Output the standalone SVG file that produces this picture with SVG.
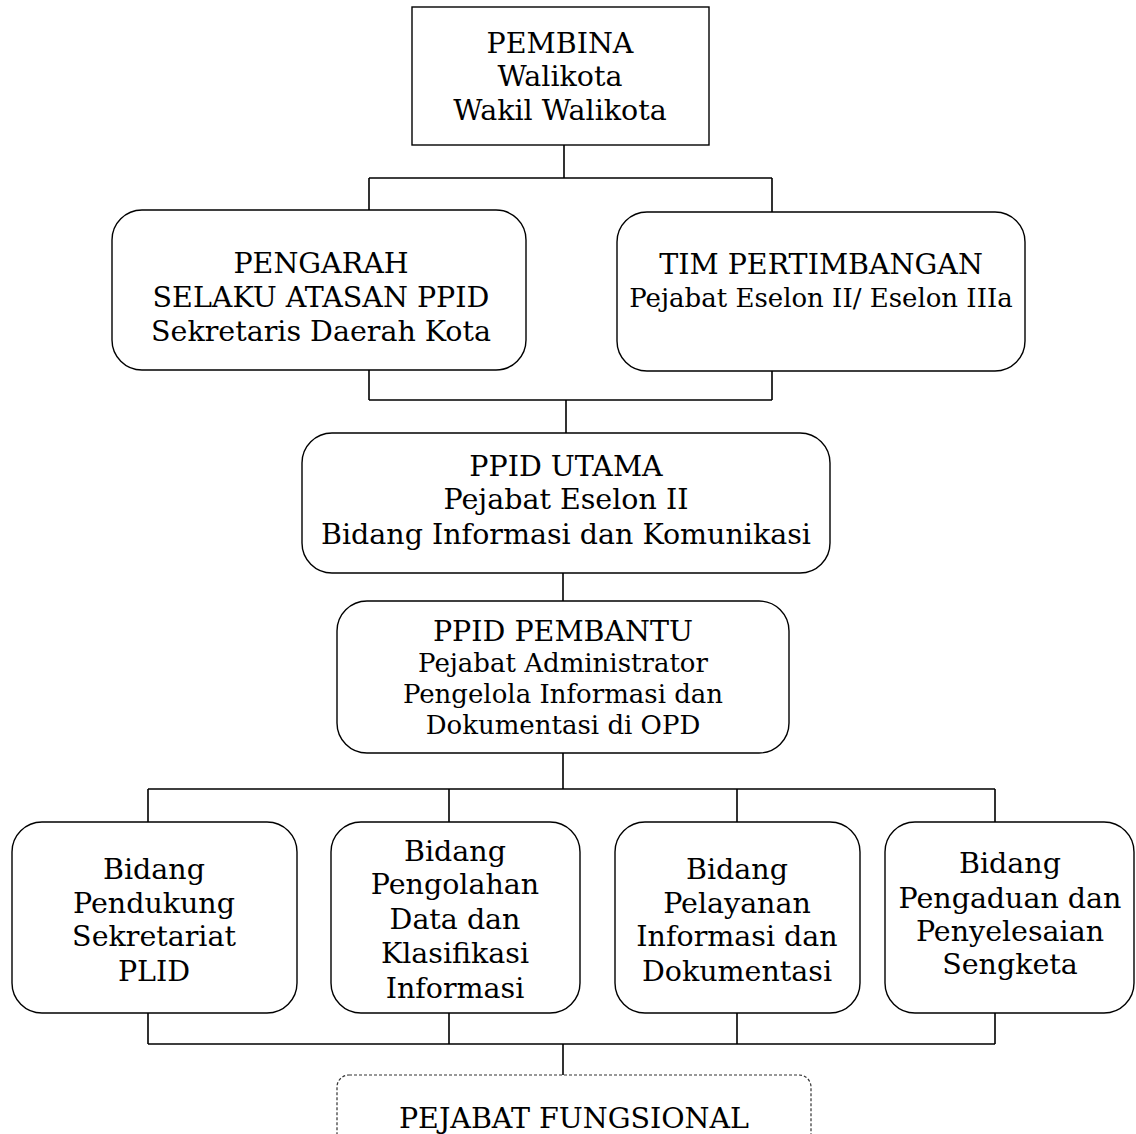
<svg xmlns="http://www.w3.org/2000/svg" width="1136" height="1134" viewBox="0 0 1136 1134">
<style>
.box{fill:#fff;stroke:#000;stroke-width:1.4}
.dash{fill:#fff;stroke:#333;stroke-width:1.2;stroke-dasharray:3 2}
.con{fill:none;stroke:#000;stroke-width:1.6}
text{font-family:"DejaVu Serif","Liberation Serif",serif;fill:#000;text-anchor:middle}
.t{font-size:28.5px}
.s{font-size:26px}
</style>
<rect width="1136" height="1134" fill="#fff"/>
<g id="connectors">
<path class="con" d="M564 145V178M369 178H772M369 178V210M772 178V212"/>
<path class="con" d="M369 370V400M772 371V400M369 400H772M566 400V433"/>
<path class="con" d="M563 573V601"/>
<path class="con" d="M563 753V789M148 789H995M148 789V822M449 789V822M737 789V822M995 789V822"/>
<path class="con" d="M148 1013V1044M449 1013V1044M737 1013V1044M995 1013V1044M148 1044H995M563 1044V1075"/>
</g>
<g id="pembina">
<rect class="box" x="412" y="7" width="297" height="138"/>
<text class="t" x="560" y="53">PEMBINA</text>
<text class="t" x="560" y="86">Walikota</text>
<text class="t" x="560" y="120">Wakil Walikota</text>
</g>
<g id="pengarah">
<rect class="box" x="112" y="210" width="414" height="160" rx="30"/>
<text class="t" x="321" y="273">PENGARAH</text>
<text class="t" x="321" y="307">SELAKU ATASAN PPID</text>
<text class="t" x="321" y="341">Sekretaris Daerah Kota</text>
</g>
<g id="tim">
<rect class="box" x="617" y="212" width="408" height="159" rx="30"/>
<text class="t" x="821" y="274">TIM PERTIMBANGAN</text>
<text class="s" x="821" y="307">Pejabat Eselon II/ Eselon IIIa</text>
</g>
<g id="utama">
<rect class="box" x="302" y="433" width="528" height="140" rx="30"/>
<text class="t" x="566" y="476">PPID UTAMA</text>
<text class="t" x="566" y="509">Pejabat Eselon II</text>
<text class="t" x="566" y="544">Bidang Informasi dan Komunikasi</text>
</g>
<g id="pembantu">
<rect class="box" x="337" y="601" width="452" height="152" rx="30"/>
<text class="t" x="563" y="641">PPID PEMBANTU</text>
<text class="s" x="563" y="672">Pejabat Administrator</text>
<text class="s" x="563" y="703">Pengelola Informasi dan</text>
<text class="s" x="563" y="734">Dokumentasi di OPD</text>
</g>
<g id="bidang1">
<rect class="box" x="12" y="822" width="285" height="191" rx="30"/>
<text class="t" x="154" y="879">Bidang</text>
<text class="t" x="154" y="913">Pendukung</text>
<text class="t" x="154" y="946">Sekretariat</text>
<text class="t" x="154" y="981">PLID</text>
</g>
<g id="bidang2">
<rect class="box" x="331" y="822" width="249" height="191" rx="30"/>
<text class="t" x="455" y="861">Bidang</text>
<text class="t" x="455" y="894">Pengolahan</text>
<text class="t" x="455" y="929">Data dan</text>
<text class="t" x="455" y="963">Klasifikasi</text>
<text class="t" x="455" y="998">Informasi</text>
</g>
<g id="bidang3">
<rect class="box" x="615" y="822" width="245" height="191" rx="30"/>
<text class="t" x="737" y="879">Bidang</text>
<text class="t" x="737" y="913">Pelayanan</text>
<text class="t" x="737" y="946">Informasi dan</text>
<text class="t" x="737" y="981">Dokumentasi</text>
</g>
<g id="bidang4">
<rect class="box" x="885" y="822" width="249" height="191" rx="30"/>
<text class="t" x="1010" y="873">Bidang</text>
<text class="t" x="1010" y="908">Pengaduan dan</text>
<text class="t" x="1010" y="941">Penyelesaian</text>
<text class="t" x="1010" y="974">Sengketa</text>
</g>
<g id="fungsional">
<rect class="dash" x="337" y="1075" width="474" height="90" rx="12"/>
<text class="t" x="574" y="1128">PEJABAT FUNGSIONAL</text>
</g>
</svg>
